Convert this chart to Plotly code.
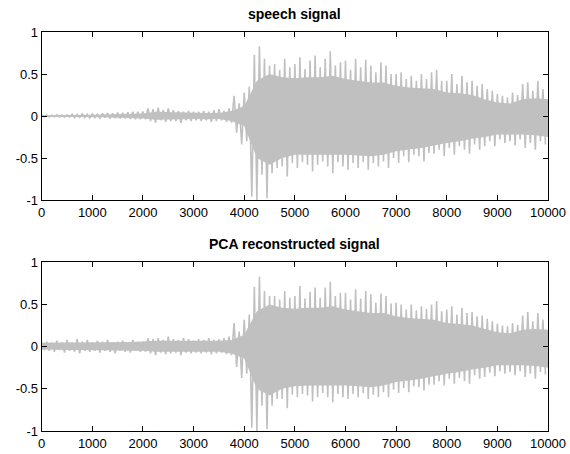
import plotly.graph_objects as go

# ---- data ----
# peak envelope, every 100 samples: upper peaks at 0,100,...,9900 ; lower peaks at 50,150,...,9950
speech_upper = [
    0.01, 0.012, 0.01, 0.014, 0.012, 0.015, 0.02, 0.018, 0.025, 0.02,
    0.025, 0.022, 0.03, 0.035, 0.03, 0.04, 0.038, 0.045, 0.05, 0.05,
    0.055, 0.09, 0.08, 0.1, 0.07, 0.09, 0.07, 0.06, 0.05, 0.06,
    0.05, 0.05, 0.06, 0.05, 0.07, 0.08, 0.06, 0.09, 0.24, 0.15,
    0.28, 0.35, 0.73, 0.83, 0.68, 0.6, 0.62, 0.55, 0.68, 0.58,
    0.62, 0.7, 0.56, 0.66, 0.72, 0.58, 0.68, 0.77, 0.6, 0.64,
    0.66, 0.55, 0.68, 0.58, 0.67, 0.6, 0.52, 0.64, 0.6, 0.5,
    0.5, 0.52, 0.44, 0.48, 0.42, 0.5, 0.44, 0.52, 0.55, 0.42,
    0.42, 0.5, 0.38, 0.48, 0.4, 0.42, 0.36, 0.38, 0.32, 0.3,
    0.26, 0.24, 0.22, 0.28, 0.25, 0.38, 0.4, 0.3, 0.42, 0.32,
]
speech_lower = [
    -0.01, -0.012, -0.01, -0.012, -0.015, -0.012, -0.02, -0.018, -0.02, -0.025,
    -0.02, -0.025, -0.02, -0.03, -0.025, -0.03, -0.03, -0.035, -0.04, -0.04,
    -0.04, -0.06, -0.08, -0.05, -0.07, -0.06, -0.06, -0.08, -0.05, -0.06,
    -0.05, -0.06, -0.05, -0.07, -0.06, -0.05, -0.07, -0.08, -0.2, -0.34,
    -0.3, -0.96, -1.0, -0.7, -0.98, -0.68, -0.62, -0.6, -0.72, -0.56,
    -0.62, -0.55, -0.58, -0.66, -0.58, -0.54, -0.6, -0.68, -0.55, -0.6,
    -0.64, -0.56, -0.62, -0.55, -0.64, -0.56, -0.6, -0.54, -0.62, -0.5,
    -0.56, -0.48, -0.55, -0.46, -0.48, -0.54, -0.44, -0.45, -0.4, -0.48,
    -0.38, -0.46, -0.36, -0.4, -0.45, -0.34, -0.4, -0.36, -0.3, -0.36,
    -0.28, -0.32, -0.3, -0.35, -0.28, -0.38, -0.32, -0.4, -0.3, -0.34,
]
pca_upper = [
    0.05, 0.06, 0.05, 0.07, 0.05, 0.08, 0.05, 0.09, 0.06, 0.08,
    0.05, 0.07, 0.06, 0.08, 0.05, 0.06, 0.07, 0.05, 0.08, 0.06,
    0.06, 0.1, 0.09, 0.1, 0.08, 0.12, 0.09, 0.08, 0.1, 0.09,
    0.07, 0.09, 0.08, 0.1, 0.08, 0.09, 0.1, 0.12, 0.28, 0.18,
    0.32, 0.38, 0.71, 0.83, 0.66, 0.6, 0.6, 0.56, 0.66, 0.58,
    0.6, 0.72, 0.57, 0.65, 0.7, 0.58, 0.7, 0.77, 0.6, 0.64,
    0.64, 0.56, 0.68, 0.57, 0.66, 0.62, 0.52, 0.63, 0.6, 0.51,
    0.52, 0.5, 0.44, 0.5, 0.43, 0.48, 0.45, 0.5, 0.54, 0.42,
    0.44, 0.48, 0.38, 0.46, 0.4, 0.41, 0.36, 0.37, 0.33, 0.3,
    0.27, 0.25, 0.24, 0.28, 0.26, 0.37, 0.41, 0.3, 0.4, 0.32,
]
pca_lower = [
    -0.04, -0.05, -0.06, -0.04, -0.07, -0.05, -0.06, -0.08, -0.05, -0.06,
    -0.05, -0.07, -0.05, -0.06, -0.08, -0.05, -0.06, -0.07, -0.05, -0.06,
    -0.06, -0.08, -0.1, -0.07, -0.09, -0.08, -0.07, -0.1, -0.07, -0.08,
    -0.07, -0.08, -0.07, -0.09, -0.08, -0.07, -0.09, -0.1, -0.24, -0.37,
    -0.32, -0.96, -1.0, -0.7, -0.98, -0.7, -0.62, -0.62, -0.73, -0.57,
    -0.6, -0.56, -0.58, -0.65, -0.6, -0.55, -0.6, -0.66, -0.56, -0.6,
    -0.62, -0.56, -0.6, -0.55, -0.62, -0.57, -0.6, -0.54, -0.6, -0.51,
    -0.55, -0.49, -0.54, -0.47, -0.48, -0.52, -0.45, -0.45, -0.41, -0.46,
    -0.38, -0.44, -0.37, -0.41, -0.44, -0.34, -0.38, -0.36, -0.31, -0.35,
    -0.29, -0.32, -0.3, -0.34, -0.29, -0.36, -0.32, -0.38, -0.3, -0.33,
]
upper_samples = list(range(0, 10000, 100))
lower_samples = list(range(50, 10000, 100))

# solid core of the signal band, every 250 samples (0..10000)
core_samples = list(range(0, 10001, 250))
speech_core_upper = [
    0.008, 0.008, 0.01, 0.012, 0.014, 0.018, 0.022, 0.025, 0.03, 0.05,
    0.045, 0.04, 0.035, 0.035, 0.035, 0.06, 0.12, 0.42, 0.5, 0.46,
    0.45, 0.46, 0.46, 0.48, 0.44, 0.42, 0.4, 0.4, 0.36, 0.34,
    0.33, 0.32, 0.28, 0.27, 0.25, 0.2, 0.16, 0.15, 0.2, 0.21, 0.2,
]
speech_core_lower = [
    -0.008, -0.008, -0.01, -0.012, -0.014, -0.016, -0.02, -0.022, -0.03, -0.045,
    -0.04, -0.04, -0.035, -0.04, -0.035, -0.06, -0.12, -0.5, -0.58, -0.5,
    -0.46, -0.46, -0.46, -0.46, -0.46, -0.47, -0.48, -0.46, -0.42, -0.4,
    -0.38, -0.35, -0.32, -0.3, -0.27, -0.25, -0.22, -0.22, -0.22, -0.23, -0.25,
]
pca_core_upper = [
    0.045, 0.05, 0.05, 0.05, 0.05, 0.05, 0.05, 0.055, 0.06, 0.07,
    0.07, 0.07, 0.07, 0.07, 0.07, 0.08, 0.14, 0.42, 0.5, 0.46,
    0.45, 0.46, 0.46, 0.48, 0.44, 0.42, 0.4, 0.4, 0.36, 0.34,
    0.33, 0.32, 0.28, 0.27, 0.25, 0.21, 0.17, 0.16, 0.2, 0.21, 0.2,
]
pca_core_lower = [
    -0.035, -0.04, -0.04, -0.04, -0.04, -0.045, -0.045, -0.05, -0.05, -0.06,
    -0.06, -0.06, -0.06, -0.06, -0.06, -0.08, -0.14, -0.5, -0.58, -0.5,
    -0.47, -0.46, -0.46, -0.46, -0.46, -0.47, -0.48, -0.46, -0.42, -0.4,
    -0.38, -0.35, -0.32, -0.3, -0.27, -0.25, -0.22, -0.22, -0.22, -0.23, -0.25,
]

x_tickvals = [0, 1000, 2000, 3000, 4000, 5000, 6000, 7000, 8000, 9000, 10000]
x_ticktext = ["0", "1000", "2000", "3000", "4000", "5000", "6000", "7000", "8000", "9000", "10000"]
y_tickvals = [-1, -0.5, 0, 0.5, 1]
y_ticktext = ["-1", "-0.5", "0", "0.5", "1"]
titles = ["speech signal", "PCA reconstructed signal"]


def interleave(up, lo):
    xs, ys = [], []
    for xu, yu, xl, yl in zip(upper_samples, up, lower_samples, lo):
        xs += [xu, xl]
        ys += [yu, yl]
    return xs, ys


LINE = "#C0C0C0"
FONT = "Liberation Sans, Arial, Helvetica, sans-serif"

fig = go.Figure()
for (up, lo, cu, cl, xa, ya) in [
    (speech_upper, speech_lower, speech_core_upper, speech_core_lower, "x", "y"),
    (pca_upper, pca_lower, pca_core_upper, pca_core_lower, "x2", "y2"),
]:
    fig.add_trace(go.Scatter(x=core_samples, y=cu, mode="lines", line=dict(width=0, color=LINE),
                             xaxis=xa, yaxis=ya, showlegend=False, hoverinfo="skip"))
    fig.add_trace(go.Scatter(x=core_samples, y=cl, mode="lines", line=dict(width=0, color=LINE),
                             fill="tonexty", fillcolor=LINE,
                             xaxis=xa, yaxis=ya, showlegend=False, hoverinfo="skip"))
    xs, ys = interleave(up, lo)
    fig.add_trace(go.Scatter(x=xs, y=ys, mode="lines", line=dict(color=LINE, width=1.6, simplify=False),
                             xaxis=xa, yaxis=ya, showlegend=False))

xdom = [41.7 / 570, 548 / 570]
ydom1 = [1 - 200 / 454, 1 - 32 / 454]
ydom2 = [1 - 431 / 454, 1 - 262.3 / 454]

common = dict(showline=True, linecolor="black", linewidth=1, mirror="ticks",
              ticks="inside", ticklen=5, tickcolor="black", tickwidth=1,
              showgrid=False, zeroline=False, automargin=False,
              tickfont=dict(family=FONT, size=13, color="black"))

fig.update_layout(
    width=570, height=454,
    margin=dict(l=0, r=0, t=0, b=0, pad=0, autoexpand=False),
    paper_bgcolor="white", plot_bgcolor="white",
    xaxis=dict(domain=xdom, range=[0, 10000], anchor="y",
               tickvals=x_tickvals, ticktext=x_ticktext, **common),
    yaxis=dict(domain=ydom1, range=[-1, 1], anchor="x",
               tickvals=y_tickvals, ticktext=y_ticktext, **common),
    xaxis2=dict(domain=xdom, range=[0, 10000], anchor="y2",
                tickvals=x_tickvals, ticktext=x_ticktext, **common),
    yaxis2=dict(domain=ydom2, range=[-1, 1], anchor="x2",
                tickvals=y_tickvals, ticktext=y_ticktext, **common),
    annotations=[
        dict(text="<b>" + titles[0] + "</b>", x=(xdom[0] + xdom[1]) / 2, y=1 - 14 / 454,
             xref="paper", yref="paper", showarrow=False, xanchor="center", yanchor="middle",
             font=dict(family=FONT, size=14, color="black")),
        dict(text="<b>" + titles[1] + "</b>", x=(xdom[0] + xdom[1]) / 2, y=1 - 244 / 454,
             xref="paper", yref="paper", showarrow=False, xanchor="center", yanchor="middle",
             font=dict(family=FONT, size=14, color="black")),
    ],
)

fig.write_html("out.html")
